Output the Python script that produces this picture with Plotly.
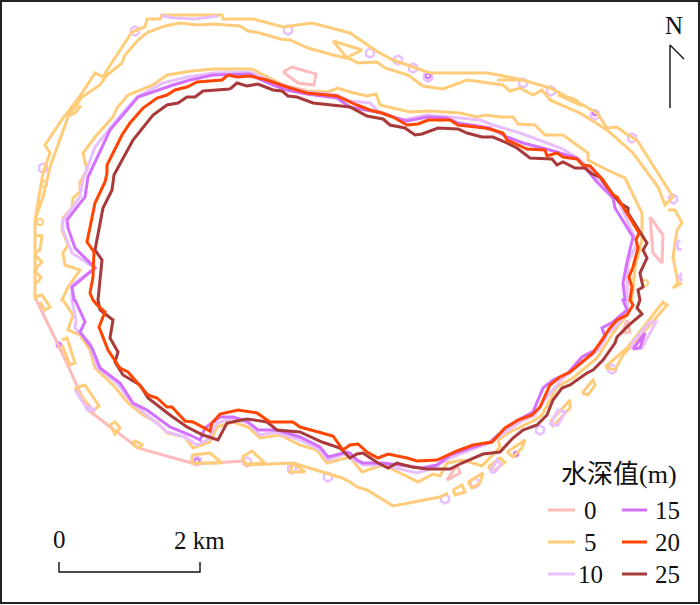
import plotly.graph_objects as go

depth_labels = ["0", "5", "10", "15", "20", "25"]
depth_colors = ["#FFBBBB", "#FFCC7A", "#E8C0FF", "#D470FF", "#FF4500", "#A83A3A"]

depth_0 = [
    [(35,297),(63,355),(88,410),(138,448),(195,464),(245,461)],
    [(283,72),(292,67),(316,74),(314,85),(298,83),(283,72)],
    [(650,217),(663,235),(662,263),(653,253),(650,217)],
    [(627,320),(630,332),(622,333),(627,320)],
    [(457,465),(460,473),(447,480),(457,465)],
]

depth_5 = [
    # inner ring
    [(252,69),(213,69),(192,71),(167,75),(153,85),(128,95),(117,108),(113,117),(95,137),(83,153),(87,170),(80,182),
     (80,192),(73,198),(72,208),(63,218),(62,230),(68,245),(63,253),(65,265),(80,270),(68,287),(62,300),(63,300),
     (73,315),(68,330),(80,335),(90,350),(95,368),(113,385),(128,403),(143,415),(158,423),(167,433),(185,437),
     (193,448),(210,442),(217,427),(233,422),(248,427),(260,438),(280,435),(300,445),(317,450),(327,463),(350,457),
     (362,472),(383,465),(400,473),(418,482),(433,474),(440,476),(447,463),(463,460),(482,466),(488,460),(482,466),
     (500,447),(498,440),(510,432),(535,420),(542,415),(557,387),(573,378),(597,358),(613,333),(628,313),(627,300),
     (632,300),(635,267),(642,240),(642,213),(625,178),(607,170),(588,160),(588,153),(563,135),(545,135),(535,125),
     (518,124),(513,117),(502,117),(485,115),(477,117),(460,113),(430,111),(410,112),(392,108),(380,105),(376,94),
     (367,96),(350,92),(338,88),(328,92),(308,91),(283,85),(277,82),(263,75),(252,69)],
    # outer ring
    [(35,300),(35,220),(43,173),(50,153),(45,145),(63,118),(72,107),(82,93),(95,73),(103,77),(107,70),(132,32),
     (145,27),(147,19),(160,19),(162,15),(222,15),(223,19),(253,19),(283,27),(312,23),(350,33),(378,52),(393,60),
     (430,73),(488,73),(523,80),(550,88),(583,105),(597,113),(607,128),(617,127),(625,133),(637,140),(673,197),
     (665,205),(658,187),(633,153),(607,130),(580,113),(550,100),(542,90),(533,95),(520,88),(510,91),(503,85),
     (467,80),(443,89),(423,86),(408,75),(385,68),(377,62),(358,63),(350,59),(333,55),(308,48),(290,40),(280,39),
     (260,33),(248,31),(240,26),(213,24),(197,25),(180,23),(165,26),(148,32),(138,40),(125,55),(122,63),(107,75),
     (100,85),(82,97),(68,117),(60,140),(50,167),(43,197),(35,220)],
    # east arc
    [(668,210),(675,210),(682,223),(677,230),(673,257),(678,283),(673,288),(682,283)],
    # south chain
    [(245,465),(293,463),(305,472),(290,472),(293,463)],
    [(293,463),(322,472),(342,478),(350,482),(357,487),(367,490),(393,506),(440,497),(448,493)],
    # pockets
    [(333,41),(362,50),(350,56),(347,58),(333,41)],
    [(72,105),(80,107),(75,113),(70,115),(72,105)],
    [(35,235),(42,236),(40,250),(35,253)],
    [(35,255),(42,262),(37,267),(35,272),(41,277),(38,282),(35,282)],
    [(35,297),(42,295),(50,307),(45,310),(40,302)],
    [(62,340),(67,338),(75,363),(70,365),(62,345)],
    [(75,388),(85,385),(99,406),(93,411),(75,388)],
    [(110,425),(115,422),(120,428),(115,434),(110,425)],
    [(132,443),(135,441),(143,445),(138,448),(132,443)],
    [(192,455),(210,453),(222,463),(192,463),(192,455)],
    [(242,457),(252,451),(265,463),(245,464),(242,457)],
    [(453,490),(462,485),(465,492),(455,495),(453,490)],
    [(468,482),(483,473),(480,483),(472,488),(468,482)],
    [(488,467),(500,458),(505,462),(493,472),(488,467)],
    [(507,452),(525,440),(522,448),(513,457),(507,452)],
    [(582,393),(593,380),(595,385),(588,395),(582,393)],
    [(550,422),(570,400),(570,408),(553,426),(550,422)],
    [(605,367),(627,348),(663,302),(667,305),(650,325),(623,355),(615,370),(605,367)],
    [(497,80),(523,80)],
    [(558,95),(582,106),(575,99),(558,95)],
]

depth_10 = [
    [(250,72),(213,73),(187,77),(163,83),(137,97),(115,122),(95,147),(83,180),(80,197),(63,220),(63,230),(72,253),
     (95,268),(72,285),(72,300),(76,320),(75,328),(90,343),(97,367),(117,383),(132,403),(147,415),(167,432),(185,437),
     (197,445),(207,440),(217,423),(233,418),(248,423),(260,435),(275,432),(300,440),(320,450),(328,460),(347,453),
     (350,457),(363,465),(383,465),(417,473),(433,468),(450,458),(470,450),(490,443),(520,422),(535,415),(547,397),
     (563,378),(583,362),(598,350),(608,333),(617,325),(628,310),(627,300),(628,263),(637,243),(618,200),(597,177),
     (580,160),(563,149),(547,143),(520,133),(493,125),(480,120),(450,117),(427,115),(403,120),(380,113),(370,103),
     (350,101),(337,95),(307,92),(273,82),(250,72)],
    [(632,343),(650,322),(656,322),(642,348),(632,348),(632,343)],
    [(550,425),(558,410),(565,412),(558,425),(550,425)],
    [(75,390),(85,405),(95,410),(88,410),(75,390)],
    [(490,472),(497,460),(501,464),(495,472),(490,472)],
    [(162,16),(175,18),(195,19),(218,16)],
    [(680,240),(677,243),(678,249),(682,250)],
    [(682,273),(679,277),(682,281)],
]

depth_15 = [
    [(213,75),(250,74),(257,78),(273,85),(287,90),(307,94),(337,98),(350,107),(382,113),(393,117),(407,121),(427,117),
     (447,118),(458,123),(490,128),(507,137),(523,143),(550,150),(577,158),(590,173),(597,182),(613,198),(615,208),
     (633,237),(627,262),(623,283),(625,300),(623,300),(627,310),(613,322),(602,328),(605,337),(595,350),(582,357),
     (568,373),(553,380),(543,388),(533,412),(518,420),(507,427),(490,442),(470,448),(450,455),(437,465),(422,468),
     (400,465),(383,463),(363,463),(357,460),(350,453),(347,452),(328,457),(320,447),(300,437),(277,430),(258,430),
     (247,421),(233,417),(220,417),(205,428),(200,440),(190,435),(170,427),(147,410),(133,403),(120,383),(100,368),
     (92,348),(80,332),(85,322),(75,300),(74,300),(72,287),(95,268),(75,248),(68,228),(67,220),(85,197),(88,177),
     (110,130),(138,97),(173,85),(190,80),(213,75)],
    [(633,349),(645,333),(640,348),(633,349)],
]

depth_25 = [
    [(230,89),(237,83),(247,86),(258,84),(273,90),(282,91),(288,96),(297,97),(313,103),(330,105),(350,107),(367,116),
     (383,119),(390,125),(405,128),(415,135),(422,134),(438,128),(458,129),(467,133),(482,137),(493,137),(505,142),
     (517,148),(530,158),(552,159),(557,165),(563,162),(575,168),(585,168),(592,174),(600,177),(607,187),(620,203),
     (628,208),(628,213),(647,243),(643,250),(647,258),(640,273),(643,287),(638,290),(640,300),(637,308),(642,314),
     (630,324),(617,337),(615,343),(603,360),(593,370),(587,373),(570,385),(562,388),(553,400),(547,415),(537,425),
     (523,430),(513,438),(500,452),(483,454),(462,463),(450,469),(427,469),(412,467),(397,463),(388,468),(378,463),
     (363,453),(357,454),(350,458),(340,448),(322,442),(300,432),(277,430),(267,422),(247,419),(227,423),(218,440),
     (203,435),(187,427),(170,415),(148,398),(140,385),(123,375),(115,362),(118,352),(110,338),(113,320),(100,310),
     (98,300),(99,290),(102,260),(95,250),(103,208),(112,190),(114,175),(133,140),(153,115),(167,105),(178,103),
     (187,97),(195,97),(203,91),(230,89)],
]

depth_20 = [
    [(228,75),(222,80),(197,82),(187,87),(175,90),(167,95),(157,98),(143,108),(130,123),(122,135),(107,165),(107,173),
     (105,182),(98,197),(95,203),(87,242),(94,252),(93,277),(90,293),(93,300),(97,305),(105,312),(99,327),(108,350),
     (120,368),(128,372),(148,395),(157,398),(167,407),(172,407),(185,421),(193,422),(210,431),(212,423),(220,414),
     (238,410),(257,413),(270,422),(293,422),(300,427),(333,436),(343,450),(350,445),(358,444),(367,452),(378,458),
     (388,454),(407,458),(417,461),(437,460),(457,451),(473,445),(492,442),(505,428),(518,420),(532,415),(540,407),
     (550,385),(560,377),(570,372),(582,362),(593,353),(610,328),(617,320),(627,315),(633,305),(630,300),(632,287),
     (629,277),(633,267),(638,248),(636,240),(639,233),(620,203),(617,197),(613,195),(603,180),(590,166),(583,165),
     (577,159),(563,157),(557,153),(547,156),(545,150),(527,149),(507,140),(503,133),(493,130),(485,128),(458,125),
     (450,120),(428,120),(418,124),(407,125),(393,117),(382,113),(370,110),(357,105),(350,102),(337,96),(307,93),
     (287,87),(267,80),(250,76),(237,77),(228,75)],
]

lilac_ring_x = [135,288,43,370,398,413,428,523,551,595,632,673,612,540,475,445,247,292,328,197]
lilac_ring_y = [31,30,168,53,60,68,77,83,91,115,138,199,369,430,483,499,462,469,477,461]
purple_ring_x = [428,595,59,88,197,516]
purple_ring_y = [76,113,345,407,461,454]
yellow_ring_x = [40,44,645]
yellow_ring_y = [222,184,283]

scale_bar_x = [59,59,200,200]
scale_bar_y = [562,572,572,562]
north_x = [670,670,684]
north_y = [108,45,59]

legend_title = "水深值(m)"
legend_order = [["0", "5", "10"], ["15", "20", "25"]]

SERIF = "Liberation Serif"
INK = "#111111"
TXT = dict(family=SERIF, size=25, color=INK)


def flatten(parts):
    xs, ys = [], []
    for part in parts:
        xs += [p[0] for p in part] + [None]
        ys += [p[1] for p in part] + [None]
    return xs, ys


fig = go.Figure()
series = [depth_0, depth_5, depth_10, depth_15, depth_25, depth_20]
names = ["0", "5", "10", "15", "25", "20"]
colors = dict(zip(depth_labels, depth_colors))

fig.add_trace(go.Scatter(x=yellow_ring_x, y=yellow_ring_y, mode="markers", hoverinfo="skip",
                         marker=dict(symbol="circle-open", size=6, color=colors["5"], line=dict(width=2))))
fig.add_trace(go.Scatter(x=lilac_ring_x, y=lilac_ring_y, mode="markers", hoverinfo="skip",
                         marker=dict(symbol="hexagon-open", size=9, color=colors["10"], line=dict(width=2.4))))
fig.add_trace(go.Scatter(x=purple_ring_x, y=purple_ring_y, mode="markers", hoverinfo="skip",
                         marker=dict(symbol="hexagon-open", size=5, color=colors["15"], line=dict(width=2))))

for name, parts in zip(names, series):
    xs, ys = flatten(parts)
    fig.add_trace(go.Scatter(x=xs, y=ys, mode="lines", name=name,
                             line=dict(color=colors[name], width=3)))

fig.add_trace(go.Scatter(x=scale_bar_x, y=scale_bar_y, mode="lines", hoverinfo="skip",
                         line=dict(color=INK, width=1.4)))
fig.add_trace(go.Scatter(x=north_x, y=north_y, mode="lines", hoverinfo="skip",
                         line=dict(color=INK, width=1.4)))

fig.add_annotation(x=59, y=539, text="0", showarrow=False, font=TXT)
fig.add_annotation(x=199, y=540, text="2 km", showarrow=False, font=TXT)
fig.add_annotation(x=674, y=25, text="N", showarrow=False, font=TXT)

# Hand-placed legend: two columns under a title, as in the reference
shapes = [dict(type="rect", xref="x", yref="y", x0=1, x1=699, y0=1, y1=603, line=dict(color="#222222", width=2))]
fig.add_annotation(x=619, y=474, text=legend_title, showarrow=False,
                   font=dict(family=SERIF + ", Noto Sans CJK SC", size=26, color=INK))
for col, (key_x0, key_x1, text_x) in zip(legend_order, [(548, 575, 590), (622, 647, 667)]):
    for label, key_y in zip(col, [510, 542, 574]):
        shapes.append(dict(type="line", xref="x", yref="y", x0=key_x0, x1=key_x1, y0=key_y, y1=key_y,
                           line=dict(color=colors[label], width=3)))
        fig.add_annotation(x=text_x, y=key_y, text=label, showarrow=False, font=TXT)

fig.update_layout(
    width=700, height=605, margin=dict(l=0, r=0, t=0, b=0),
    paper_bgcolor="white", plot_bgcolor="white", showlegend=False,
    xaxis=dict(range=[0, 700], visible=False, fixedrange=True),
    yaxis=dict(range=[605, 0], visible=False, fixedrange=True),
    shapes=shapes,
)
fig.write_html("out.html", config={"displayModeBar": False},
               post_script="document.body.style.margin='0';document.documentElement.style.overflow='hidden';")
